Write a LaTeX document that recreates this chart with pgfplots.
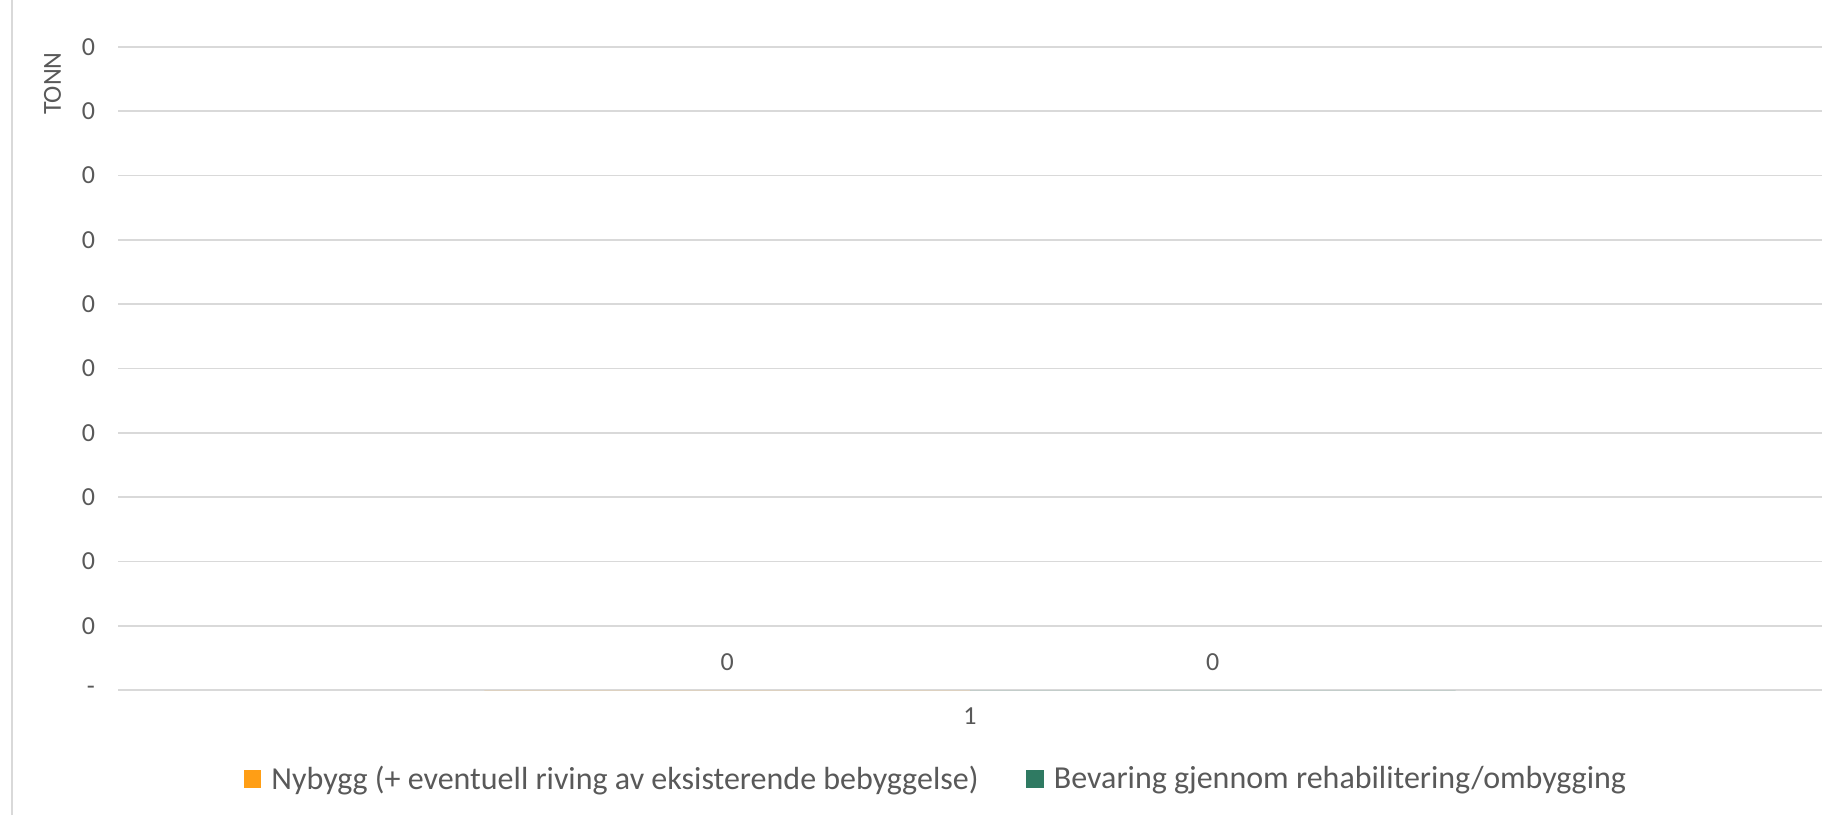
\documentclass[border=0pt]{standalone}
\usepackage{fontspec}
\setmainfont{Carlito}
\usepackage{pgfplots}
\pgfplotsset{compat=1.18}
\definecolor{txtgrey}{HTML}{595959}
\definecolor{gridgrey}{HTML}{D9D9D9}
\definecolor{orangeS}{HTML}{FF9E15}
\definecolor{greenS}{HTML}{2F7A62}
\begin{document}
\begin{tikzpicture}[x=1pt,y=1pt]
\path[use as bounding box] (0,0) rectangle (922.5,407.5);
\draw[gridgrey, line width=0.8pt] (6,0) -- (6,407.5);
\begin{axis}[
  at={(59pt,62.5pt)}, anchor=south west,
  scale only axis, width=852pt, height=321.5pt,
  ybar, bar width=0.285,
  xmin=0.5, xmax=1.5, ymin=0, ymax=1,
  xtick={1}, xticklabels={1},
  ytick={0,0.1,0.2,0.3,0.4,0.5,0.6,0.7,0.8,0.9,1},
  yticklabels={-,0,0,0,0,0,0,0,0,0,0},
  axis line style={draw=none},
  tick style={draw=none},
  ymajorgrids, grid style={gridgrey, line width=0.8pt},
  /pgf/number format/assume math mode=true,
  ticklabel style={font=\fontsize{13}{15}\selectfont, text=txtgrey},
  yticklabel style={anchor=east, xshift=-8pt},
  xticklabel style={yshift=-1pt},
  nodes near coords,
  every node near coord/.append style={font=\fontsize{13}{15}\selectfont, text=txtgrey, yshift=6pt},
  legend style={at={(rel axis cs:0.4806,-0.1384)}, anchor=center, draw=none,
    legend columns=2, font=\fontsize{16}{18}\selectfont, text=txtgrey,
    /tikz/every odd column/.append style={column sep=3pt},
    /tikz/every even column/.append style={column sep=22pt}},
  legend image code/.code={\fill[#1] (0pt,-4.4pt) rectangle (8.8pt,4.4pt);},
]
\addplot[fill=orangeS, draw=none, bar shift=-0.1425] coordinates {(1,0)};
\addplot[fill=greenS, draw=none, bar shift=0.1425] coordinates {(1,0)};
\legend{Nybygg (+ eventuell riving av eksisterende bebyggelse), Bevaring gjennom rehabilitering/ombygging}
\end{axis}
\node[rotate=90, text=txtgrey, font=\fontsize{13}{15}\selectfont] at (26.25,365.7) {TONN};
\end{tikzpicture}
\end{document}
